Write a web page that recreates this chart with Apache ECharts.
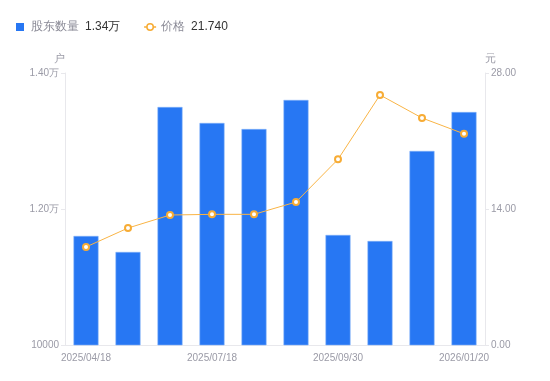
<!DOCTYPE html>
<html><head><meta charset="utf-8">
<script src="https://cdn.jsdelivr.net/npm/echarts@6/dist/echarts.min.js"></script>
<style>html,body{margin:0;padding:0;background:#fff}#c{width:550px;height:381px}</style>
</head><body><div id="c"></div>
<script>
const categories = ['2025/04/18','2025/05/20','2025/06/20','2025/07/18','2025/08/20','2025/09/10','2025/09/30','2025/10/31','2025/12/10','2026/01/20'];
const holders = [11603, 11368, 13500, 13265, 13176, 13603, 11618, 11529, 12853, 13426];
const prices = [10.09, 12.04, 13.38, 13.45, 13.45, 14.72, 19.11, 25.74, 23.37, 21.74];
const leftTicks = { min: 10000, max: 14000, interval: 2000 };
const rightTicks = { min: 0, max: 28, interval: 14 };

const chart = echarts.init(document.getElementById('c'), null, { renderer: 'canvas' });
const gray = '#9a9aa6';
const lineColor = '#e8e8ec';
chart.setOption({
  animation: false,
  legend: {
    left: 11, top: 16, itemGap: 23, selectedMode: false,
    itemWidth: 12, itemHeight: 8, symbolKeepAspect: true,
    textStyle: { fontSize: 12, rich: { n: { color: '#8a8a96', fontSize: 12 }, v: { color: '#333', fontSize: 12, padding: [0,0,0,6] } } },
    data: [
      { name: '股东数量', icon: 'path://M0,0h10v10h-10z', itemStyle: { color: '#2777f3', borderWidth: 0 } },
      { name: '价格', itemStyle: { color: '#fff', borderColor: '#f7ac35', borderWidth: 1.5 }, lineStyle: { color: '#f7ac35', width: 1.5 } }
    ],
    formatter: function (n) {
      if (n === '股东数量') return '{n|' + n + '}{v|' + (holders[holders.length-1]/10000).toFixed(2) + '万}';
      return '{n|' + n + '}{v|' + prices[prices.length-1].toFixed(3) + '}';
    }
  },
  grid: { left: 65, right: 65, top: 73, bottom: 36 },
  xAxis: {
    type: 'category', data: categories,
    axisLine: { lineStyle: { color: lineColor } },
    axisTick: { show: false },
    axisLabel: { color: gray, fontSize: 10, interval: 2, margin: 8 }
  },
  yAxis: [
    {
      type: 'value', name: '户', min: leftTicks.min, max: leftTicks.max, interval: leftTicks.interval,
      nameGap: 9, nameTextStyle: { color: gray, fontSize: 11, align: 'right' },
      axisLine: { show: true, lineStyle: { color: lineColor } },
      axisTick: { show: true, length: 4, lineStyle: { color: lineColor } },
      splitLine: { show: false },
      axisLabel: { color: gray, fontSize: 10, margin: 6, formatter: v => v > 10000 ? (v/10000).toFixed(2) + '万' : String(v) }
    },
    {
      type: 'value', name: '元', min: rightTicks.min, max: rightTicks.max, interval: rightTicks.interval,
      nameGap: 9, nameTextStyle: { color: gray, fontSize: 11, align: 'left' },
      axisLine: { show: true, lineStyle: { color: lineColor } },
      axisTick: { show: true, length: 4, lineStyle: { color: lineColor } },
      splitLine: { show: false },
      axisLabel: { color: gray, fontSize: 10, margin: 6, formatter: v => v.toFixed(2) }
    }
  ],
  series: [
    {
      name: '股东数量', type: 'bar', data: holders, yAxisIndex: 0, barWidth: 25,
      itemStyle: { color: '#2777f3', borderColor: '#7fb0f8', borderWidth: 0.6 }
    },
    {
      name: '价格', type: 'line', data: prices, yAxisIndex: 1,
      symbol: 'circle', symbolSize: 6,
      itemStyle: { color: '#fff', borderColor: '#f7ac35', borderWidth: 2 },
      lineStyle: { color: '#f9b445', width: 1 }
    }
  ]
});
</script></body></html>
